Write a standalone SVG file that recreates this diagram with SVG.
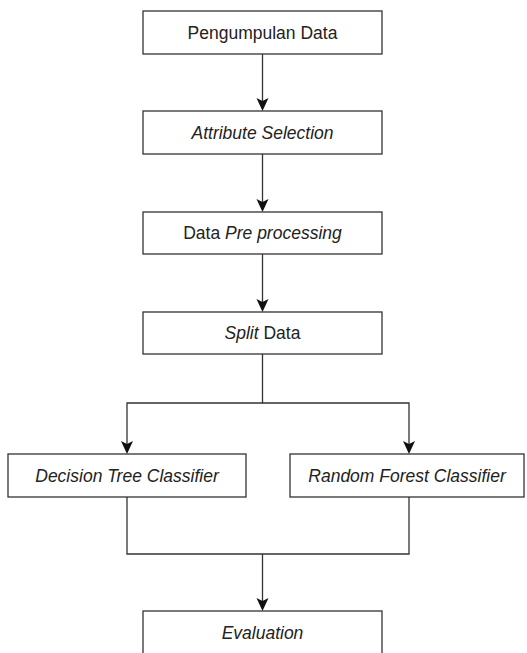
<svg xmlns="http://www.w3.org/2000/svg" width="527" height="653" viewBox="0 0 527 653">
<style>
.box{fill:#fff;stroke:#333;stroke-width:1.3}
.t{font-family:"Liberation Sans",Arial,sans-serif;font-size:17.5px;fill:#222;text-anchor:middle}
.i{font-style:italic}
.c{fill:none;stroke:#333;stroke-width:1.3}
</style>
<defs>
<path id="ah" d="M-6,-12 L0,-9 L6,-12 L0,1 Z" fill="#111"/>
</defs>
<rect width="527" height="653" fill="#fff"/>
<g id="connectors">
<line class="c" x1="262.5" y1="54" x2="262.5" y2="108"/>
<line class="c" x1="262.5" y1="154" x2="262.5" y2="209"/>
<line class="c" x1="262.5" y1="254" x2="262.5" y2="309"/>
<polyline class="c" points="262.5,354 262.5,403 127,403 127,451"/>
<polyline class="c" points="262.5,403 409,403 409,451"/>
<polyline class="c" points="127,497 127,554 409,554 409,497"/>
<line class="c" x1="262.5" y1="554" x2="262.5" y2="608"/>
<use href="#ah" x="262.5" y="110"/>
<use href="#ah" x="262.5" y="211"/>
<use href="#ah" x="262.5" y="311"/>
<use href="#ah" x="127" y="453"/>
<use href="#ah" x="409" y="453"/>
<use href="#ah" x="262.5" y="610"/>
</g>
<g id="n1"><rect class="box" x="143" y="11" width="239" height="43"/><text class="t" x="262.5" y="38.5">Pengumpulan Data</text></g>
<g id="n2"><rect class="box" x="143" y="111" width="239" height="43"/><text class="t i" x="262.5" y="138.5">Attribute Selection</text></g>
<g id="n3"><rect class="box" x="143" y="212" width="239" height="42"/><text class="t" x="262.5" y="239">Data <tspan class="i">Pre processing</tspan></text></g>
<g id="n4"><rect class="box" x="143" y="312" width="239" height="42"/><text class="t" x="262.5" y="339"><tspan class="i">Split</tspan> Data</text></g>
<g id="n5"><rect class="box" x="8" y="454" width="238" height="43"/><text class="t i" x="127" y="481.5">Decision Tree Classifier</text></g>
<g id="n6"><rect class="box" x="290" y="454" width="234" height="43"/><text class="t i" x="407" y="481.5">Random Forest Classifier</text></g>
<g id="n7"><rect class="box" x="143" y="611" width="239" height="45"/><text class="t i" x="262.5" y="638.5">Evaluation</text></g>
</svg>
